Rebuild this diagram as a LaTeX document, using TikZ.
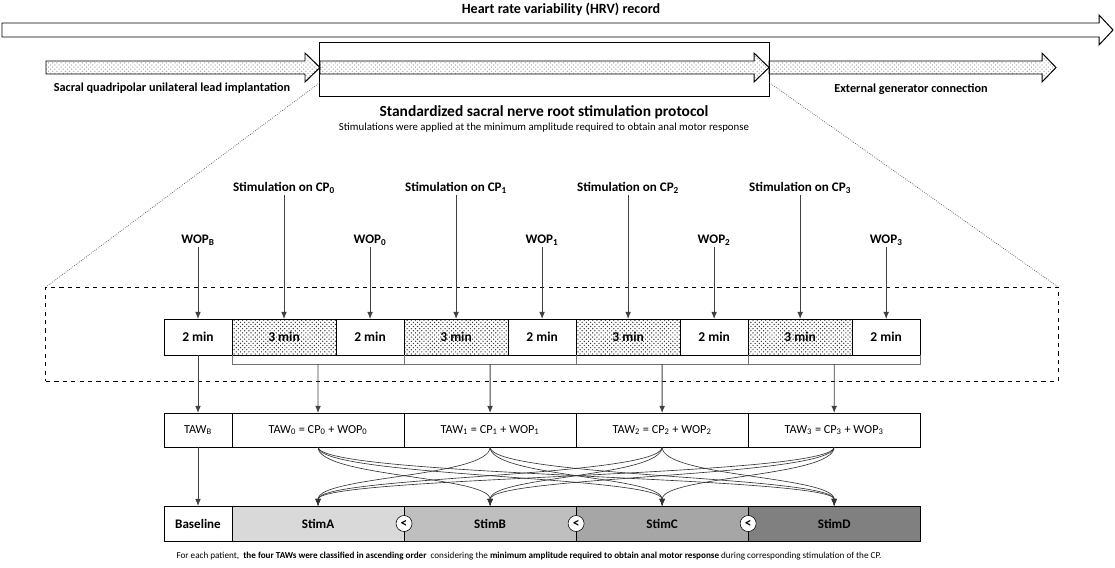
\documentclass[tikz,border=0pt]{standalone}
\usepackage{fontspec}
\setmainfont{Carlito}
\usetikzlibrary{arrows.meta,positioning,patterns,calc}
\newcommand{\fs}[1]{\fontsize{#1}{#1}\selectfont}
\tikzset{
  lbl/.style={font=\fs{9.3}\bfseries,inner sep=1pt},
  two/.style={draw,minimum width=1.7cm,minimum height=0.9cm,outer sep=0pt,inner sep=0pt,
              font=\fs{9.6}\bfseries,fill=white},
  three/.style={draw,minimum width=2.6cm,minimum height=0.9cm,outer sep=0pt,inner sep=0pt,
                font=\fs{9.6}\bfseries,pattern=crosshatch dots,pattern color=black!80},
  tawbox/.style={draw,minimum width=4.3cm,minimum height=0.85cm,outer sep=0pt,inner sep=0pt,
                 font=\fs{8.7},fill=white},
  stimbox/.style={draw,minimum width=4.3cm,minimum height=0.875cm,outer sep=0pt,inner sep=0pt,
                  font=\fs{9.3}\bfseries},
  less/.style={draw,circle,fill=white,minimum size=0.4cm,inner sep=0pt,font=\fs{9.5}\bfseries},
  bigarr/.style={draw,line width=0.7pt,fill=white},
  dotarr/.style={draw,line width=0.7pt,pattern=crosshatch dots,pattern color=gray!70},
  arr/.style={-{Latex[length=5pt,width=4pt]},black!75,line width=0.6pt},
  curv/.style={-{Latex[length=5pt,width=4pt]},black!80,line width=0.45pt},
  brk/.style={black!55,line width=0.5pt},
}
\begin{document}
\begin{tikzpicture}[x=0.025cm,y=-0.025cm]
  \useasboundingbox (0,0) rectangle (1115,567);

  % top record arrows
  \node[font=\fs{10}\bfseries] (hrv) at (561,9) {Heart rate variability (HRV) record};
  \path[bigarr] (2,23) -- (1099,23) -- (1099,15) -- (1113,30) -- (1099,45) -- (1099,37) -- (2,37) -- cycle;
  \node[draw,line width=0.7pt,minimum width=11.225cm,minimum height=1.35cm,outer sep=0pt] (proto) at (544.5,69) {};
  \path[dotarr] (46,61) -- (305,61) -- (305,53) -- (320,67.5) -- (305,82) -- (305,74) -- (46,74) -- cycle;
  \path[dotarr] (320,61) -- (754,61) -- (754,53) -- (769,67.5) -- (754,82) -- (754,74) -- (320,74) -- cycle;
  \path[dotarr] (769,61) -- (1042,61) -- (1042,53) -- (1056,67.5) -- (1042,82) -- (1042,74) -- (769,74) -- cycle;
  \node[font=\fs{8.7}\bfseries] (impl) at (172,88) {Sacral quadripolar unilateral lead implantation};
  \node[font=\fs{8.7}\bfseries] (extg) at (911,89) {External generator connection};
  \node[font=\fs{11}\bfseries] (ptitle) at (544,112) {Standardized sacral nerve root stimulation protocol};
  \node[font=\fs{7.7}] (psub) at (544,128) {Stimulations were applied at the minimum amplitude required to obtain anal motor response};

  % zoom frame
  \node[draw,dashed,line width=0.6pt,minimum width=25.3cm,minimum height=2.35cm,outer sep=0pt] (zoom) at (552,334) {};
  \coordinate (pl) at ($(proto.west)!0.5!(proto.south west)$);
  \coordinate (pr) at ($(proto.east)!0.5!(proto.south east)$);
  \draw[densely dotted,black!70,line width=0.5pt] (pl) -- (zoom.north west);
  \draw[densely dotted,black!70,line width=0.5pt] (pr) -- (zoom.north east);

  % protocol timeline
  \node[two] (wB) at (198,337) {2 min};
  \node[three,right=0pt of wB] (s0) {3 min};
  \node[two,right=0pt of s0] (w0) {2 min};
  \node[three,right=0pt of w0] (s1) {3 min};
  \node[two,right=0pt of s1] (w1) {2 min};
  \node[three,right=0pt of w1] (s2) {3 min};
  \node[two,right=0pt of s2] (w2) {2 min};
  \node[three,right=0pt of w2] (s3) {3 min};
  \node[two,right=0pt of s3] (w3) {2 min};

  % labels above the timeline
  \node[lbl] (lwB) at (wB|-0,240) {WOP\textsubscript{B}};
  \foreach \i in {0,...,3}{
    \node[lbl] (ls\i) at (s\i|-0,188) {Stimulation on CP\textsubscript{\i}};
    \node[lbl] (lw\i) at (w\i|-0,240) {WOP\textsubscript{\i}};
    \draw[arr] (ls\i) -- (s\i);
    \draw[arr] (lw\i) -- (w\i);
  }
  \draw[arr] (lwB) -- (wB);

  % TAW row
  \node[two,font=\fs{8.7},minimum height=0.85cm] (tawB) at (198,430) {TAW\textsubscript{B}};
  \node[tawbox,right=0pt of tawB] (taw0) {TAW\textsubscript{0} = CP\textsubscript{0} + WOP\textsubscript{0}};
  \node[tawbox,right=0pt of taw0] (taw1) {TAW\textsubscript{1} = CP\textsubscript{1} + WOP\textsubscript{1}};
  \node[tawbox,right=0pt of taw1] (taw2) {TAW\textsubscript{2} = CP\textsubscript{2} + WOP\textsubscript{2}};
  \node[tawbox,right=0pt of taw2] (taw3) {TAW\textsubscript{3} = CP\textsubscript{3} + WOP\textsubscript{3}};

  % brackets
  \foreach \i in {0,...,3}{
    \draw[brk] (s\i.south west) -- ++(0,9) coordinate (bl\i) -| (w\i.south east);
    \coordinate (bm\i) at ($(bl\i)!0.5!(bl\i-|w\i.east)$);
    \draw[arr] (bm\i) -- (taw\i);
  }
  \draw[arr] (wB) -- (tawB);

  % ranked stimulation row
  \node[two,font=\fs{9.3}\bfseries,minimum height=0.875cm] (base) at (198,523.5) {Baseline};
  \node[stimbox,fill=black!15,right=0pt of base] (st0) {StimA};
  \node[stimbox,fill=black!25,right=0pt of st0] (st1) {StimB};
  \node[stimbox,fill=black!35,right=0pt of st1] (st2) {StimC};
  \node[stimbox,fill=black!50,right=0pt of st2] (st3) {StimD};
  \draw[arr] (tawB) -- (base);

  \foreach \i in {0,...,3}
    \foreach \j in {0,...,3}{
      \ifnum\i=\j\relax\else
        \draw[curv] (taw\i.south) .. controls +(0,30) and +(0,-30) .. (st\j.north);
      \fi
    }

  \node[less] (lt0) at (st0.east) {<};
  \node[less] (lt1) at (st1.east) {<};
  \node[less] (lt2) at (st2.east) {<};

  \node[font=\fs{6.5}] (note) at (529,556) {For each patient,\ \ \textbf{the four TAWs were classified in ascending order}\ \ considering the \textbf{minimum amplitude required to obtain anal motor response} during corresponding stimulation of the CP.};
\end{tikzpicture}
\end{document}
